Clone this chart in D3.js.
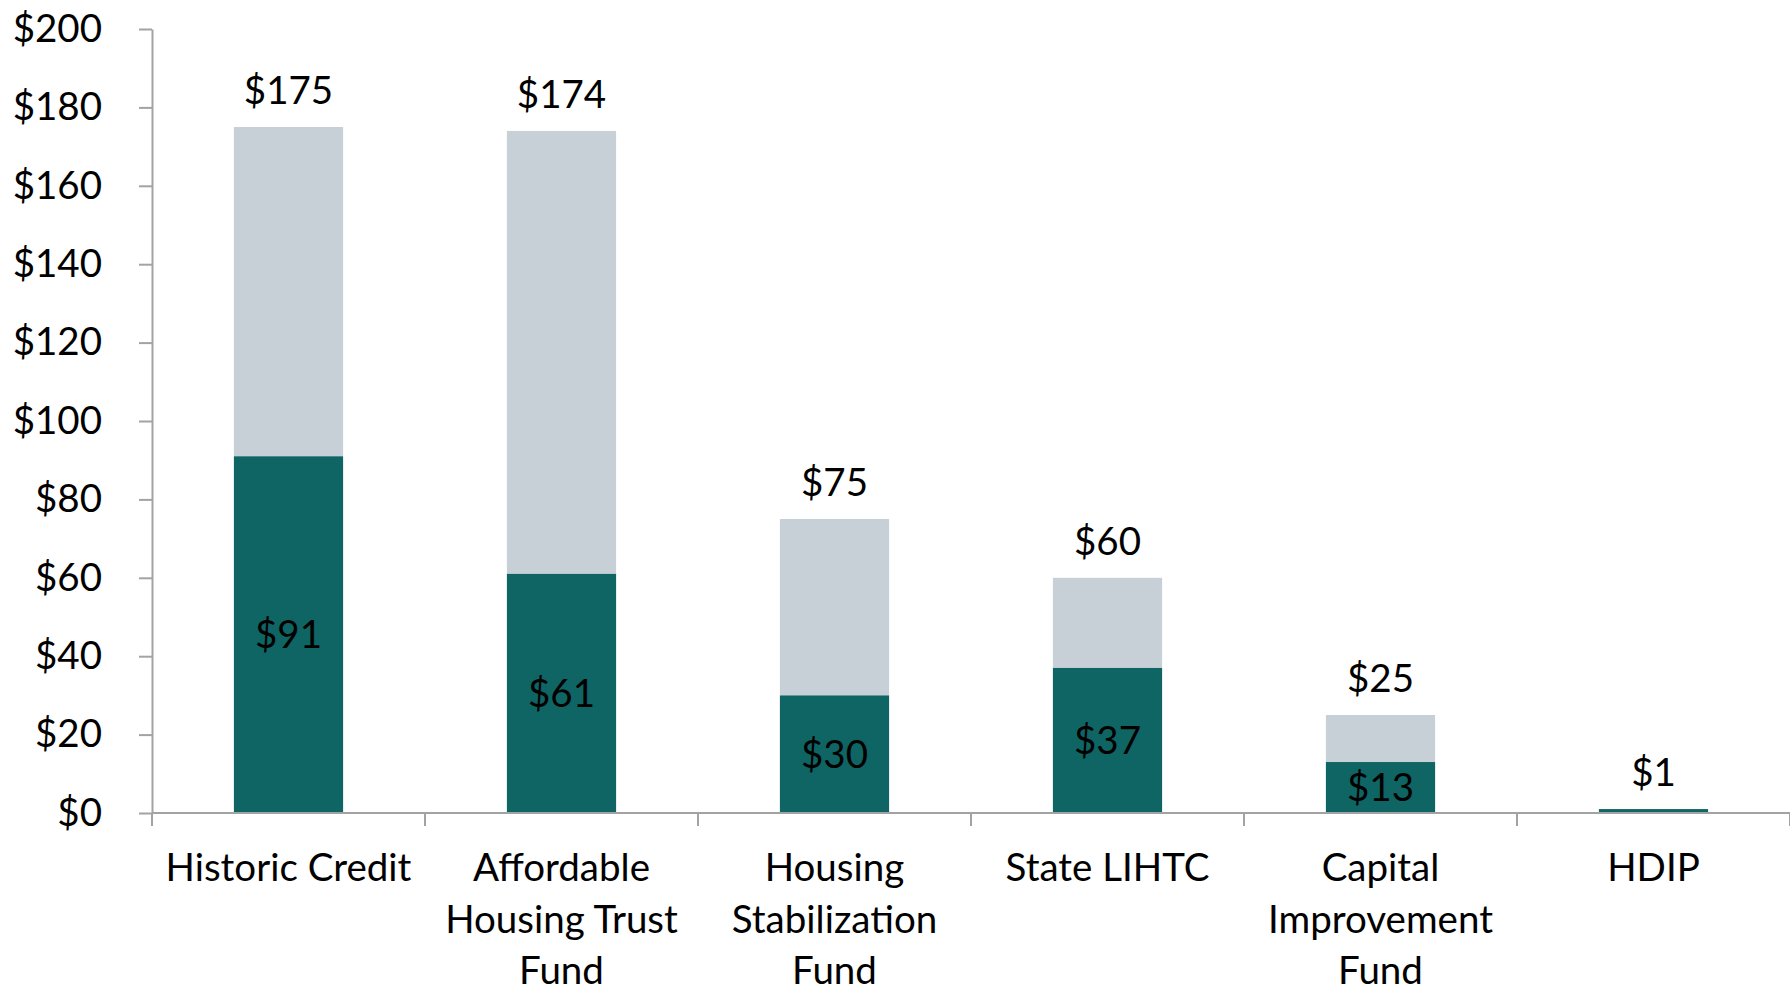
<!DOCTYPE html>
<html>
<head>
<meta charset="utf-8">
<script src="https://cdn.jsdelivr.net/npm/d3@7"></script>
<style>
  html, body { margin: 0; padding: 0; background: #fff; }
  svg text { font-family: "Lato", "Open Sans", sans-serif; fill: #000; }
</style>
</head>
<body>
<svg id="chart" width="1790" height="989"></svg>
<script>
const categories = ["Historic Credit", "Affordable Housing Trust Fund", "Housing Stabilization Fund", "State LIHTC", "Capital Improvement Fund", "HDIP"];
const categoryLines = [["Historic Credit"], ["Affordable", "Housing Trust", "Fund"], ["Housing", "Stabilization", "Fund"], ["State LIHTC"], ["Capital", "Improvement", "Fund"], ["HDIP"]];
const lowerValues = [91, 61, 30, 37, 13, 1];
const totalValues = [175, 174, 75, 60, 25, 1];
const yTicks = [0, 20, 40, 60, 80, 100, 120, 140, 160, 180, 200];
const showInner = [true, true, true, true, true, false];

const svg = d3.select("#chart");
const margin = { left: 152, right: 0, top: 29, bottom: 176 };
const W = 1790, H = 989;
const fontSize = 38.5;

const x = d3.scaleBand().domain(categories).range([margin.left, W - margin.right]).paddingInner(0.6).paddingOuter(0.3);
const y = d3.scaleLinear().domain([0, 200]).range([H - margin.bottom, margin.top]);

const teal = "#0F6464", grey = "#C6D0D6", axisCol = "#A3A3A3";

// bars: upper segment (grey) and lower (teal)
svg.append("g").selectAll("rect.upper").data(categories).join("rect")
  .attr("x", d => x(d)).attr("width", x.bandwidth())
  .attr("y", (d, i) => y(totalValues[i]))
  .attr("height", (d, i) => y(lowerValues[i]) - y(totalValues[i]))
  .attr("fill", grey);
svg.append("g").selectAll("rect.lower").data(categories).join("rect")
  .attr("x", d => x(d)).attr("width", x.bandwidth())
  .attr("y", (d, i) => y(lowerValues[i]))
  .attr("height", (d, i) => y(0) - y(lowerValues[i]))
  .attr("fill", teal);

// y axis
const yAxis = svg.append("g").attr("transform", `translate(${margin.left},0)`)
  .call(d3.axisLeft(y).tickValues(yTicks).tickFormat(d => "$" + d).tickSizeInner(13).tickSizeOuter(0).tickPadding(37));
yAxis.selectAll("path, line").attr("stroke", axisCol).attr("stroke-width", 2);
yAxis.selectAll("text").attr("font-size", fontSize).style("font-family", "Lato, sans-serif");

// x axis
const xAxisG = svg.append("g").attr("transform", `translate(0,${y(0)})`);
xAxisG.append("line").attr("x1", margin.left).attr("x2", W).attr("y1", 0).attr("y2", 0)
  .attr("stroke", axisCol).attr("stroke-width", 2);
const boundaries = categories.map(c => x(c) - x.step() * 0.3).concat([x(categories[categories.length - 1]) + x.bandwidth() + x.step() * 0.3]);
xAxisG.selectAll("line.tick").data(boundaries).join("line")
  .attr("x1", d => d).attr("x2", d => d).attr("y1", 0).attr("y2", 13)
  .attr("stroke", axisCol).attr("stroke-width", 2);

// category labels
const catG = svg.append("g");
categories.forEach((c, i) => {
  const t = catG.append("text").attr("text-anchor", "middle")
    .attr("x", x(c) + x.bandwidth() / 2).attr("y", y(0) + 68).attr("font-size", fontSize);
  categoryLines[i].forEach((ln, j) => {
    t.append("tspan").attr("x", x(c) + x.bandwidth() / 2).attr("dy", j === 0 ? 0 : 51.5).text(ln);
  });
});

// total labels
svg.append("g").selectAll("text").data(categories).join("text")
  .attr("text-anchor", "middle")
  .attr("x", d => x(d) + x.bandwidth() / 2)
  .attr("y", (d, i) => y(totalValues[i]) - 23)
  .attr("font-size", fontSize)
  .text((d, i) => "$" + totalValues[i]);

// inner labels
svg.append("g").selectAll("text").data(categories.filter((d, i) => showInner[i])).join("text")
  .attr("text-anchor", "middle")
  .attr("x", d => x(d) + x.bandwidth() / 2)
  .attr("y", d => { const i = categories.indexOf(d); return (y(lowerValues[i]) + y(0)) / 2; })
  .attr("dy", "0.35em")
  .attr("font-size", fontSize)
  .text(d => "$" + lowerValues[categories.indexOf(d)]);
</script>
</body>
</html>
